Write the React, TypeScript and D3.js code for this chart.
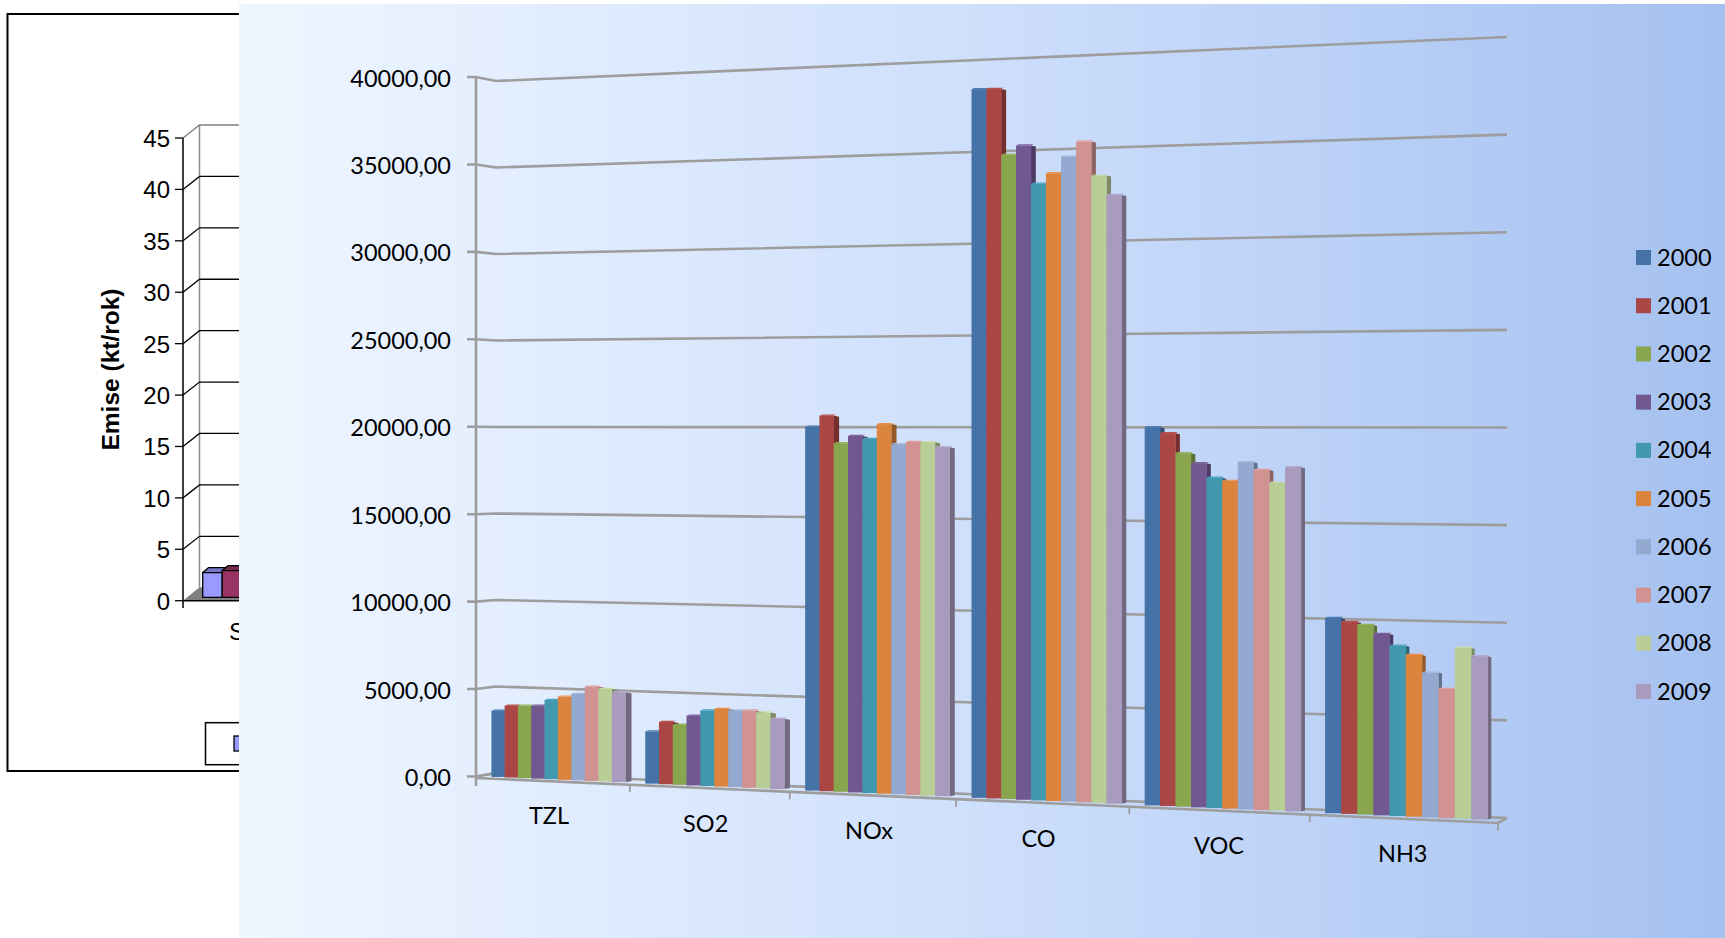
import React from "react";
import * as d3 from "d3";

// Emission totals per pollutant, one list per pollutant, one value per year.
const years = ["2000", "2001", "2002", "2003", "2004", "2005", "2006", "2007", "2008", "2009"];
const pollutants = ["TZL", "SO2", "NOx", "CO", "VOC", "NH3"];
const tzl = [3780, 4090, 4120, 4140, 4490, 4710, 4890, 5320, 5220, 5060];
const so2 = [2930, 3480, 3360, 3890, 4210, 4320, 4270, 4290, 4210, 3890];
const nox = [20040, 20650, 19140, 19540, 19380, 20200, 19100, 19230, 19220, 18960];
const co = [38340, 38320, 34750, 35230, 33150, 33700, 34570, 35360, 33520, 32470];
const voc = [20090, 19780, 18720, 18200, 17440, 17280, 18270, 17870, 17210, 18030];
const nh3 = [10180, 9990, 9860, 9410, 8820, 8370, 7480, 6660, 8800, 8390];
const emissions = [tzl, so2, nox, co, voc, nh3];
const yearColors = ["#4572A7", "#AA4643", "#89A54E", "#71588F", "#4198AF", "#DB843D", "#93A9CF", "#D19392", "#B9CD96", "#A99BBD"];
const valueTicks = [0, 5000, 10000, 15000, 20000, 25000, 30000, 35000, 40000];

// The older slide underneath, mostly covered by the panel.
const olderTicks = [0, 5, 10, 15, 20, 25, 30, 35, 40, 45];
const olderValues = [2.4, 2.6];
const olderColors = ["#9999FF", "#993366"];

const W = 1725;
const H = 938;
const calibriLike = "Lato, Carlito, sans-serif";
const arial = "'Liberation Sans', Arial, sans-serif";

// Chart floor is foreshortened: category slots widen toward the viewer's right.
const foreshorten = 0.114;
const slotX = d3.scaleLinear().domain([0, 1]).range([476, 1498]);
const xAt = (slot: number) => {
  const s = slot / pollutants.length;
  return slotX((s * (1 - foreshorten)) / (1 - foreshorten * s));
};

// Value planes: the left and right edges of the plane holding the bars and of the back wall.
const barLeft = d3.scaleLinear().domain([0, 40000]).range([776, 76]);
const barRight = d3.scaleLinear().domain([0, 40000]).range([820.4, 40.4]);
const wallLeft = d3.scaleLinear().domain([0, 40000]).range([773, 81]);
const wallRight = d3.scaleLinear().domain([0, 40000]).range([818, 37]);
const axisY = d3.scaleLinear().domain([0, 40000]).range([776.5, 77]);
const xShare = d3.scaleLinear().domain([476, 1498]).range([0, 1]);
const barY = (x: number, v: number) => d3.interpolateNumber(barLeft(v), barRight(v))(xShare(x));
const sideDepth = d3.scaleLinear().domain([476, 1498]).range([6.5, 3.4]);

// Where each category's run of bars starts and ends inside its slot.
const clusterStart = d3.scaleLinear().domain([0, 5]).range([0.102, 0.083]);
const clusterEnd = d3.scaleLinear().domain([0, 5]).range([0.972, 0.947]);

const olderY = d3.scaleLinear().domain([0, 45]).range([600.7, 138]);
const olderBase = d3.scaleLinear().domain([0, 45]).range([597.3, 134.6]);
const olderBarX = d3.scaleBand<number>().domain([0, 1]).range([202.7, 241.7]);

const points = (p: number[][]) => p.map((c) => c.join(",")).join(" ");
const categoryBaselines = d3.scaleLinear().domain([0, 5]).range([824, 861.7]);
const legendY = d3.scalePoint<string>().domain(years).range([257.5, 691.5]);

function OlderChart() {
  const back = 16.5;
  const rise = 13.5;
  return (
    <g>
      <rect x={7.5} y={14} width={600} height={757} fill="#fff" stroke="#000" strokeWidth={2} />
      <polygon
        fill="#808080"
        points={points([[183, olderY(0)], [183 + back, olderY(0) - rise], [300, olderY(0) - rise], [300, olderY(0)]])}
      />
      <line x1={199.5} x2={199.5} y1={olderY(45) - 13} y2={olderY(0) - rise} stroke="#8c8c8c" strokeWidth={1.5} />
      {olderTicks.map((t) => (
        <g key={t}>
          <polyline
            fill="none"
            stroke={t === 45 ? "#808080" : "#000"}
            strokeWidth={1.3}
            points={points(t === 0 ? [] : [[183, olderY(t)], [199.5, olderY(t) - 13], [300, olderY(t) - 13]])}
          />
          <line x1={175} x2={183} y1={olderY(t)} y2={olderY(t)} stroke="#000" strokeWidth={1.3} />
          <text x={170} y={olderY(t) + 9} textAnchor="end" fontFamily={arial} fontSize={24} fill="#000">
            {t}
          </text>
        </g>
      ))}
      <line x1={183} x2={300} y1={olderY(0)} y2={olderY(0)} stroke="#000" strokeWidth={1.5} />
      <line x1={183} x2={183} y1={olderY(45)} y2={608} stroke="#000" strokeWidth={1.5} />
      {olderValues.map((v, i) => {
        const x = olderBarX(i) as number;
        const w = olderBarX.bandwidth();
        const top = olderBase(v);
        const base = olderBase(0);
        return (
          <g key={i} stroke="#000" strokeWidth={1.3} strokeLinejoin="round">
            <polygon
              fill={d3.color(olderColors[i])!.darker(0.7).toString()}
              points={points([[x, top], [x + 6, top - 5], [x + w + 6, top - 5], [x + w, top]])}
            />
            <rect x={x} y={top} width={w} height={base - top} fill={olderColors[i]} />
          </g>
        );
      })}
      <text x={229} y={640} fontFamily={arial} fontSize={24} fill="#000">
        S
      </text>
      <text
        transform="translate(119,369.5) rotate(-90)"
        textAnchor="middle"
        fontFamily={arial}
        fontWeight="bold"
        fontSize={24.5}
        fill="#000"
      >
        Emise (kt/rok)
      </text>
      <rect x={205.5} y={722.7} width={200} height={42} fill="#fff" stroke="#000" strokeWidth={1.5} />
      <rect x={234} y={736} width={14} height={15} fill={olderColors[0]} stroke="#000" strokeWidth={1.3} />
    </g>
  );
}

function Walls() {
  const floorBack = wallLeft(0);
  return (
    <g fill="none" stroke="#9d9d9d" strokeWidth={2.6}>
      {valueTicks.map((t) => (
        <polyline
          key={t}
          points={points([[467, axisY(t)], [476, axisY(t)], [496, wallLeft(t)], [1507, wallRight(t)]])}
        />
      ))}
      <line x1={476} x2={476} y1={axisY(40000)} y2={786} />
      <polyline
        points={points([
          [476, axisY(0) + 1.5],
          [1498, 823],
          [1507, wallRight(0)],
        ])}
      />
      <line x1={476} x2={496} y1={axisY(0)} y2={floorBack} />
      {d3.range(1, pollutants.length + 1).map((i) => {
        const x = xAt(i);
        const y = 778 + (x - 476) * 0.0441;
        return <line key={i} x1={x} x2={x} y1={y} y2={y + 7.5} strokeWidth={1.8} />;
      })}
    </g>
  );
}

function Bars() {
  return (
    <g>
      {pollutants.map((name, c) => {
        const slot = d3.scaleLinear().domain([0, years.length]).range([c + clusterStart(c), c + clusterEnd(c)]);
        return emissions[c].map((v, i) => {
          const x0 = xAt(slot(i));
          const x1 = xAt(slot(i + 1));
          const mid = (x0 + x1) / 2;
          const top = barY(mid, v);
          const base = barY(mid, 0);
          const d = sideDepth(mid);
          const fill = yearColors[i];
          return (
            <g key={`${name}-${years[i]}`}>
              <polygon
                fill={d3.color(fill)!.darker(1.1).toString()}
                points={points([[x1, top], [x1 + d, top + 1], [x1 + d, base - 1], [x1, base]])}
              />
              <polygon
                fill={d3.color(fill)!.brighter(0.25).toString()}
                points={points([[x0, top], [x0 + d * 0.5, top - 1.2], [x1 + d * 0.5, top - 1.2], [x1, top]])}
              />
              <rect x={x0} y={top} width={x1 - x0 + 0.3} height={base - top} fill={fill} />
            </g>
          );
        });
      })}
    </g>
  );
}

export default function App() {
  const fmt = (t: number) => t.toFixed(2).replace(".", ",");
  const slotCentres = [549, 705.7, 869, 1038.5, 1219, 1402.7];
  return (
    <svg
      width={W}
      height={H}
      viewBox={`0 0 ${W} ${H}`}
      style={{ position: "absolute", left: 0, top: 0, display: "block" }}
    >
      <defs>
        <linearGradient id="panelFill" x1="0" x2="1" y1="0" y2="0">
          <stop offset="0" stopColor="#EFF6FF" />
          <stop offset="0.5" stopColor="#CEDFFC" />
          <stop offset="1" stopColor="#A5C1F0" />
        </linearGradient>
      </defs>
      <rect width={W} height={H} fill="#fff" />
      <OlderChart />
      <rect x={239} y={4} width={W - 239} height={H - 4} fill="url(#panelFill)" />
      <Walls />
      <Bars />
      {valueTicks.map((t) => (
        <text key={t} x={451} y={axisY(t) + 9.5} textAnchor="end" fontFamily={calibriLike} fontSize={23.5} fill="#000">
          {fmt(t)}
        </text>
      ))}
      {pollutants.map((p, i) => (
        <text
          key={p}
          x={slotCentres[i]}
          y={categoryBaselines(i)}
          textAnchor="middle"
          fontFamily={calibriLike}
          fontSize={23.5}
          fill="#000"
        >
          {p}
        </text>
      ))}
      {years.map((y, i) => (
        <g key={y}>
          <rect x={1636} y={(legendY(y) as number) - 7.5} width={15} height={15} fill={yearColors[i]} />
          <text x={1657} y={(legendY(y) as number) + 8} fontFamily={calibriLike} fontSize={23.5} fill="#000">
            {y}
          </text>
        </g>
      ))}
    </svg>
  );
}
